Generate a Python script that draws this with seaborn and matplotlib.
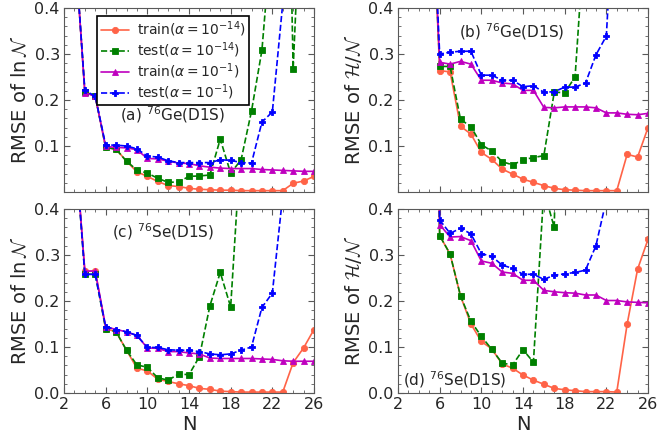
import numpy as np
import pandas as pd
import seaborn as sns
import matplotlib
matplotlib.use("Agg")
import matplotlib.pyplot as plt
from matplotlib.ticker import MultipleLocator

# ---------------------------------------------------------------- data
N_left = list(range(3, 27))    # panels (a) and (c)
N_right = list(range(5, 27))   # panels (b) and (d)

# (a) 76Ge, RMSE of ln N
a_train14 = [0.55, 0.218, 0.208, 0.097, 0.093, 0.067, 0.044, 0.034, 0.023, 0.014, 0.012, 0.008,
             0.006, 0.005, 0.004, 0.004, 0.003, 0.003, 0.003, 0.003, 0.003, 0.019, 0.024, 0.034]
a_test14 = [0.55, 0.218, 0.208, 0.097, 0.093, 0.067, 0.048, 0.041, 0.030, 0.021, 0.022, 0.034,
            0.035, 0.037, 0.115, 0.041, 0.070, 0.176, 0.308, 0.58, 1.37, 0.268, 0.78, 1.2]
a_train1 = [0.55, 0.216, 0.208, 0.099, 0.097, 0.096, 0.092, 0.073, 0.072, 0.067, 0.063, 0.062,
            0.057, 0.054, 0.052, 0.051, 0.051, 0.051, 0.049, 0.048, 0.047, 0.046, 0.045, 0.045]
a_test1 = [0.55, 0.221, 0.208, 0.102, 0.102, 0.100, 0.094, 0.078, 0.076, 0.068, 0.064, 0.064,
           0.064, 0.064, 0.070, 0.069, 0.064, 0.063, 0.152, 0.174, 0.41, 0.9, 1.4, 2.0]

# (b) 76Ge, RMSE of H/N
b_train14 = [0.8, 0.264, 0.261, 0.143, 0.126, 0.086, 0.071, 0.050, 0.039, 0.028, 0.021, 0.014,
             0.008, 0.005, 0.004, 0.003, 0.003, 0.003, 0.003, 0.082, 0.076, 0.140]
b_test14 = [0.8, 0.273, 0.273, 0.158, 0.142, 0.103, 0.089, 0.066, 0.059, 0.070, 0.075, 0.079,
            0.217, 0.216, 0.250, 0.59, 1.0, 1.5, 2.0, 2.5, 3.0, 3.5]
b_train1 = [0.8, 0.282, 0.278, 0.284, 0.278, 0.243, 0.243, 0.237, 0.235, 0.221, 0.221, 0.184,
            0.183, 0.185, 0.185, 0.185, 0.183, 0.172, 0.172, 0.169, 0.168, 0.171]
b_test1 = [0.8, 0.300, 0.304, 0.306, 0.306, 0.254, 0.254, 0.243, 0.243, 0.229, 0.231, 0.217,
           0.218, 0.228, 0.228, 0.237, 0.298, 0.339, 0.75, 1.2, 1.8, 2.5]

# (c) 76Se, RMSE of ln N
c_train14 = [0.56, 0.265, 0.265, 0.140, 0.133, 0.093, 0.054, 0.048, 0.030, 0.025, 0.020, 0.016,
             0.010, 0.008, 0.004, 0.003, 0.002, 0.002, 0.002, 0.002, 0.002, 0.066, 0.098, 0.138]
c_test14 = [0.56, 0.258, 0.258, 0.140, 0.133, 0.093, 0.061, 0.056, 0.033, 0.028, 0.041, 0.040,
            0.079, 0.189, 0.262, 0.187, 0.55, 1.0, 1.5, 2.0, 2.5, 3.0, 3.5, 4.0]
c_train1 = [0.56, 0.265, 0.265, 0.144, 0.138, 0.133, 0.125, 0.098, 0.097, 0.090, 0.090, 0.087,
            0.085, 0.076, 0.075, 0.075, 0.075, 0.075, 0.074, 0.073, 0.070, 0.069, 0.069, 0.069]
c_test1 = [0.56, 0.258, 0.258, 0.144, 0.138, 0.133, 0.125, 0.099, 0.099, 0.094, 0.093, 0.093,
           0.090, 0.085, 0.083, 0.085, 0.093, 0.100, 0.186, 0.217, 0.43, 0.9, 1.4, 2.0]

# (d) 76Se, RMSE of H/N
d_train14 = [1.5, 0.342, 0.302, 0.211, 0.150, 0.112, 0.096, 0.063, 0.054, 0.039, 0.028, 0.019,
             0.010, 0.007, 0.005, 0.003, 0.003, 0.003, 0.002, 0.150, 0.269, 0.334]
d_test14 = [1.5, 0.342, 0.302, 0.211, 0.156, 0.123, 0.095, 0.065, 0.061, 0.094, 0.067, 0.44,
            0.360, 1.5, 2.0, 2.5, 3.0, 3.5, 4.0, 4.5, 5.0, 5.5]
d_train1 = [1.5, 0.366, 0.339, 0.340, 0.331, 0.287, 0.282, 0.263, 0.260, 0.245, 0.245, 0.223,
            0.220, 0.218, 0.217, 0.213, 0.213, 0.201, 0.201, 0.198, 0.197, 0.196]
d_test1 = [1.5, 0.376, 0.347, 0.358, 0.346, 0.303, 0.297, 0.278, 0.271, 0.258, 0.258, 0.247,
           0.256, 0.259, 0.262, 0.267, 0.320, 0.42, 1.0, 1.5, 2.0, 2.5]

series_labels = [r"train($\alpha=10^{-14}$)", r"test($\alpha=10^{-14}$)",
                 r"train($\alpha=10^{-1}$)", r"test($\alpha=10^{-1}$)"]
panel_titles = [r"(a) $^{76}$Ge(D1S)", r"(b) $^{76}$Ge(D1S)",
                r"(c) $^{76}$Se(D1S)", r"(d) $^{76}$Se(D1S)"]
ylabels = [r"RMSE of $\ln\mathcal{N}$", r"RMSE of $\mathcal{H}/\mathcal{N}$"]

# ---------------------------------------------------------------- style
sns.set_theme(style="ticks", color_codes=False)
plt.rcParams.update({
    "font.family": ["DejaVu Sans"],
    "mathtext.fontset": "custom",
    "mathtext.rm": "DejaVu Sans",
    "mathtext.it": "DejaVu Sans:italic",
    "mathtext.bf": "DejaVu Sans:bold",
    "mathtext.cal": "cmsy10",
})

colors = ["#ff6347", "#008000", "#bf00bf", "#0000ff"]
markers = ["o", "s", "^", "P"]
styles = ["-", "--", "-", "--"]
msizes = [4.5, 4.5, 4.5, 5.0]

fig, axes = plt.subplots(2, 2, figsize=(6.6, 4.44), dpi=100)
fig.subplots_adjust(left=64 / 660, right=648 / 660, bottom=51 / 444, top=436 / 444,
                    wspace=0.336, hspace=0.092)

panels = [
    (axes[0, 0], N_left, [a_train14, a_test14, a_train1, a_test1]),
    (axes[0, 1], N_right, [b_train14, b_test14, b_train1, b_test1]),
    (axes[1, 0], N_left, [c_train14, c_test14, c_train1, c_test1]),
    (axes[1, 1], N_right, [d_train14, d_test14, d_train1, d_test1]),
]

for idx, (ax, Ns, curves) in enumerate(panels):
    for vals, lab, c, mk, ls, ms in zip(curves, series_labels, colors, markers, styles, msizes):
        df = pd.DataFrame({"N": Ns, "rmse": vals})
        sns.lineplot(data=df, x="N", y="rmse", ax=ax, color=c, marker=mk, linestyle=ls,
                     markersize=ms, markeredgecolor=c, markeredgewidth=0.6,
                     linewidth=1.2, label=lab, legend=False)
    ax.set_xlim(2, 26)
    ax.set_ylim(0, 0.4)
    ax.xaxis.set_major_locator(MultipleLocator(4))
    ax.xaxis.set_minor_locator(MultipleLocator(1))
    ax.yaxis.set_major_locator(MultipleLocator(0.1))
    ax.yaxis.set_minor_locator(MultipleLocator(0.02))
    ax.tick_params(which="both", direction="in", top=True, right=True,
                   color="0.35", labelsize=11.5, pad=3)
    ax.tick_params(which="major", length=4, width=0.8)
    ax.tick_params(which="minor", length=2, width=0.6)
    for sp in ax.spines.values():
        sp.set_color("0.35")
        sp.set_linewidth(0.8)
    row, col = divmod(idx, 2)
    ax.set_ylabel(ylabels[col], fontsize=14, labelpad=3)
    if row == 0:
        ax.set_xlabel("")
        ax.tick_params(labelbottom=False)
        ax.set_yticks([0.1, 0.2, 0.3, 0.4])
    else:
        ax.set_xlabel("N", fontsize=14, labelpad=2)
        ax.set_yticks([0.0, 0.1, 0.2, 0.3, 0.4])
    ax.set_xticks([2, 6, 10, 14, 18, 22, 26])

# panel tags
text_pos = [(0.434, 0.42), (0.454, 0.873), (0.396, 0.877), (0.227, 0.074)]
for ax, t, (tx, ty) in zip(axes.flat, panel_titles, text_pos):
    ax.text(tx, ty, t, transform=ax.transAxes, ha="center", va="center", fontsize=11)

leg = axes[0, 0].legend(loc="upper left", bbox_to_anchor=(0.133, 0.957), borderaxespad=0,
                        fontsize=10, frameon=True, fancybox=False, framealpha=1,
                        handlelength=2.0, labelspacing=0.1, borderpad=0.25,
                        handletextpad=0.6)
leg.get_frame().set_edgecolor("black")
leg.get_frame().set_linewidth(1.2)

fig.savefig("out.png", dpi=100)
